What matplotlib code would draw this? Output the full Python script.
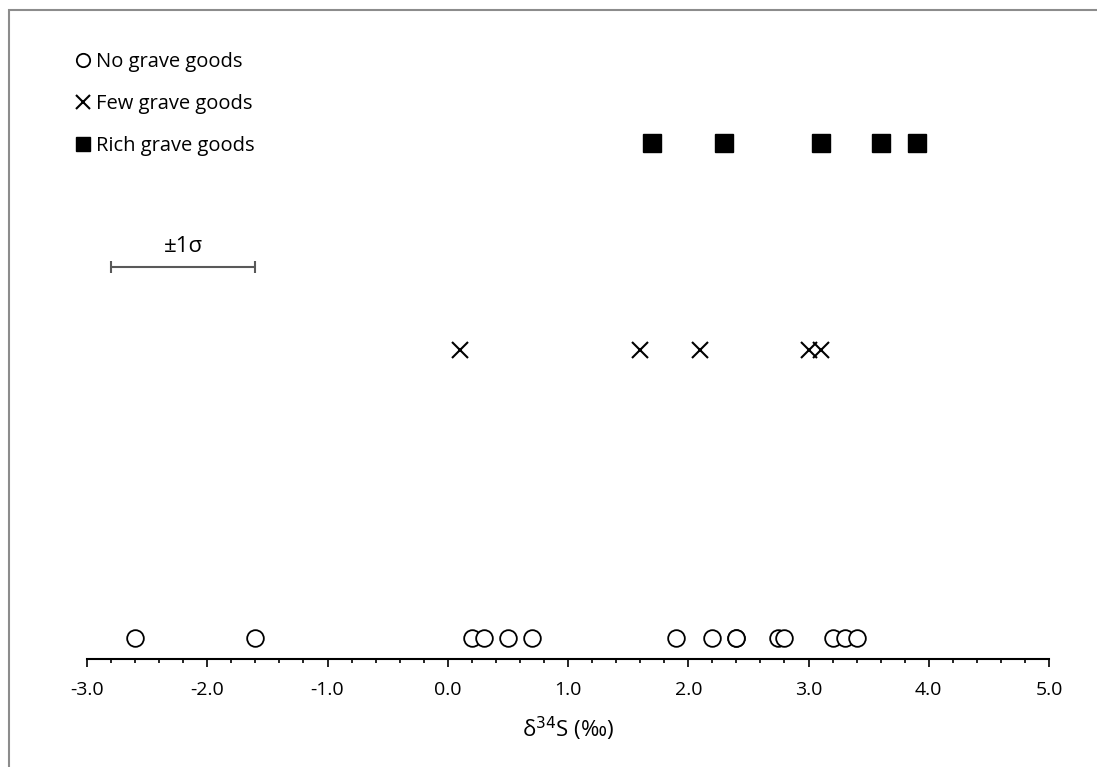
import matplotlib.pyplot as plt
from matplotlib.patches import Rectangle
from matplotlib.ticker import MultipleLocator, FormatStrFormatter

plt.rcParams['font.family'] = ['Open Sans', 'DejaVu Sans']
plt.rcParams['axes.unicode_minus'] = False

# d34S values per grave goods group
none_x = [-2.6, -1.6, 0.2, 0.3, 0.5, 0.7, 1.9, 2.2, 2.4, 2.4, 2.75, 2.8, 3.2, 3.3, 3.4]
few_x = [0.1, 1.6, 2.1, 3.0, 3.1]
rich_x = [1.7, 2.3, 3.1, 3.6, 3.9]
# row heights used to separate the groups
none_row, few_row, rich_row = 0.2, 3.0, 5.0
# 1 sigma error bar
sigma_center, sigma = -2.2, 0.6
sigma_row = 3.8

fig = plt.figure(figsize=(10.97, 7.67), dpi=100)
ax = fig.add_axes([87 / 1097, 108 / 767, (1049 - 87) / 1097, (659 - 40) / 767])

ax.plot(none_x, [none_row] * len(none_x), 'o', ms=12, mfc='white', mec='black', mew=1.3,
        ls='none', label='No grave goods')
ax.plot(few_x, [few_row] * len(few_x), 'x', ms=12, mec='black', mew=1.5,
        ls='none', label='Few grave goods')
ax.plot(rich_x, [rich_row] * len(rich_x), 's', ms=13, mfc='black', mec='black',
        ls='none', label='Rich grave goods')

ax.errorbar([sigma_center], [sigma_row], xerr=[sigma], color='#595959', lw=1.5,
            capsize=4, capthick=1.5)
ax.text(sigma_center, sigma_row + 0.1, '±1σ', ha='center', va='bottom', fontsize=16)

ax.set_xlim(-3, 5)
ax.set_ylim(0, 6)
ax.xaxis.set_major_locator(MultipleLocator(1.0))
ax.xaxis.set_minor_locator(MultipleLocator(0.2))
ax.xaxis.set_major_formatter(FormatStrFormatter('%.1f'))
ax.tick_params(axis='x', which='major', direction='out', length=6, width=1.2, labelsize=14, pad=10)
ax.tick_params(axis='x', which='minor', direction='out', length=3, width=1.2)
ax.set_yticks([])
for s in ['left', 'top', 'right']:
    ax.spines[s].set_visible(False)
ax.spines['bottom'].set_linewidth(1.5)
ax.set_xlabel('δ$^{34}$S (‰)', fontsize=16, labelpad=11)

fig.legend(loc='upper left', bbox_to_anchor=(57 / 1097, 1 - 34 / 767), frameon=False,
           fontsize=14.5, handlelength=0.8, handletextpad=0.25, labelspacing=1.1,
           markerscale=0.8)

fig.patches.append(Rectangle((9 / 1097, -0.1), 1.2, 1 - 10 / 767 + 0.1,
                             transform=fig.transFigure, fill=False, ec='#8c8c8c', lw=1.5))

fig.savefig('out.png', dpi=100)
